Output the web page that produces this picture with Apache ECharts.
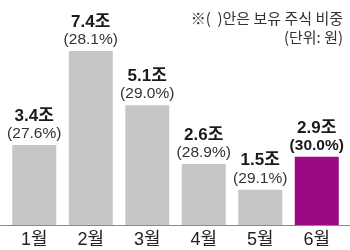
<!DOCTYPE html>
<html><head><meta charset="utf-8">
<script src="https://cdn.jsdelivr.net/npm/echarts@6/dist/echarts.min.js"></script>
<style>html,body{margin:0;padding:0;background:#fff}#c{width:350px;height:250px}</style>
</head><body><div id="c"></div>
<script>
const categories = ['1월','2월','3월','4월','5월','6월'];
const values = [3.4, 7.4, 5.1, 2.6, 1.5, 2.9];
const shares = ['27.6','28.1','29.0','28.9','29.1','30.0'];
const noteLines = ['※(  )안은 보유 주식 비중', '(단위: 원)'];

const FONT = '"Liberation Sans", "Noto Sans CJK KR", sans-serif';
const chart = echarts.init(document.getElementById('c'), null, {renderer:'canvas'});
const data = values.map((v,i)=>{
  const last = i === values.length-1;
  return {
    value: v,
    itemStyle: {color: last ? '#9b0a82' : '#c6c6c6'},
    label: {
      formatter: last ? '{v|' + v.toFixed(1) + '조}\n{pb|(' + shares[i] + '%)}' : '{v|' + v.toFixed(1) + '조}\n{p|(' + shares[i] + '%)}'
    }
  };
});
chart.setOption({
  animation:false,
  grid:{left:6, right:5, top:13.5, bottom:25},
  xAxis:{type:'category', data:categories,
    axisLine:{show:false}, axisTick:{show:false},
    axisLabel:{color:'#222', fontSize:18, fontFamily:FONT, margin:6}},
  yAxis:{type:'value', min:0, max:9, show:false},
  series:[{type:'bar', data:data, barWidth:44,
    label:{show:true, position:'top', distance:3, fontFamily:FONT,
      rich:{
        v:{fontSize:17, fontWeight:'bold', color:'#1a1a1a', lineHeight:20, fontFamily:FONT},
        p:{fontSize:15.5, color:'#333', lineHeight:16, fontFamily:FONT},
        pb:{fontSize:15.5, fontWeight:'bold', color:'#1a1a1a', lineHeight:16, fontFamily:FONT}
      }}
  }],
  graphic:[
    {type:'line', shape:{x1:0,y1:225.5,x2:350,y2:225.5}, style:{stroke:'#8a8a8a', lineWidth:1}},
    {type:'text', right:7, top:11, style:{text:noteLines[0], fill:'#333', font:'15px "Noto Sans CJK KR", sans-serif'}},
    {type:'text', right:7, top:30, style:{text:noteLines[1], fill:'#333', font:'15px "Noto Sans CJK KR", sans-serif'}}
  ]
});
</script></body></html>
